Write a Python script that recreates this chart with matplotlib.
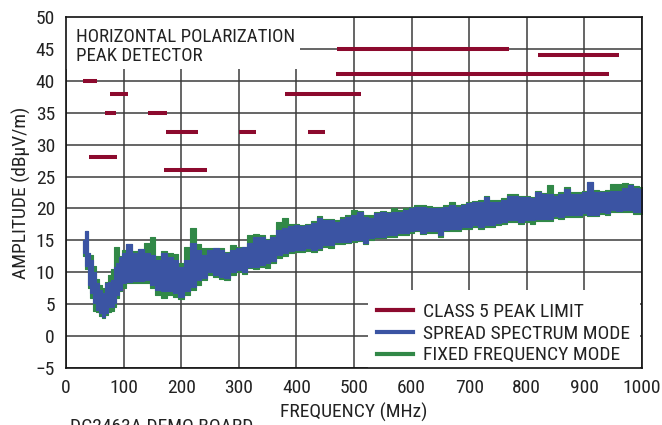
import matplotlib
matplotlib.use("Agg")
import matplotlib.pyplot as plt
from matplotlib.patches import Rectangle
from matplotlib.lines import Line2D

plt.rcParams['font.family'] = ['Roboto Condensed', 'Archivo Narrow', 'Liberation Sans Narrow', 'DejaVu Sans']

# ---- data ----
freq = [30, 35, 40, 45, 50, 55, 60, 65, 70, 75, 80, 85, 90, 95, 100,
        110, 120, 130, 140, 150, 160, 170, 180, 190, 200, 210, 220, 230, 240, 250,
        260, 270, 280, 290, 300, 310, 320, 330, 340, 350, 360, 370, 380, 390, 400,
        410, 420, 430, 440, 450, 460, 470, 480, 490, 500, 510, 520, 530, 540, 550,
        560, 570, 580, 590, 600, 610, 620, 630, 640, 650, 660, 670, 680, 690, 700,
        710, 720, 730, 740, 750, 760, 770, 780, 790, 800, 810, 820, 830, 840, 850,
        860, 870, 880, 890, 900, 910, 920, 930, 940, 950, 960, 970, 980, 990, 1000]

spread_hi = [15, 16.5, 13, 12, 10, 8.3, 7.2, 6.7, 8.3, 8.5, 8.8, 10.8, 11.4, 12.4, 13,
             14.4, 13, 13.6, 13, 12.7, 12, 13, 12.4, 12, 10.8, 12, 14.6, 13.5, 12.7, 13.5,
             13.8, 13.5, 13, 13.5, 13.8, 14, 14.6, 15.6, 15.6, 15, 15.6, 16.6, 16.9, 17.2, 17.4,
             17.2, 17.4, 17.7, 18.5, 18.2, 18.2, 17.9, 18.4, 18.7, 19, 19.5, 18.7, 18.5, 19.3, 19.5,
             19.3, 19.5, 19.5, 19.8, 20, 20.3, 20.3, 20, 20, 20, 20.3, 20.5, 20.3, 20.5, 20.8,
             21, 21, 21.8, 21, 21, 21.3, 22, 22, 21.8, 21.8, 21.6, 22.6, 22.2, 22.2, 22,
             22.3, 23.1, 22.3, 22.3, 22.6, 24.2, 22.6, 22.6, 22.6, 22.8, 22.8, 23.2, 23.6, 23.2, 23]
spread_lo = [13, 11, 8, 6.7, 5.2, 4.1, 3.6, 3, 3.6, 4.5, 4.5, 5.2, 6.4, 7.2, 8.3,
             8.5, 8.6, 8.6, 8.8, 8, 7.2, 7, 7, 6.7, 6.2, 7, 7.7, 8.8, 9.1, 10,
             9.6, 9.3, 9.1, 10, 10.3, 10, 10.9, 10.9, 11.2, 11.4, 11.7, 12.7, 13, 13.3, 13.5,
             13.5, 13.8, 13.5, 13.8, 14.3, 14.3, 14.8, 14.8, 14.8, 15.1, 15.1, 14.6, 15.4, 15.6, 15.6,
             15.9, 15.9, 16.2, 16.2, 16.4, 16.7, 16.2, 16.4, 16.4, 15.8, 16.6, 16.8, 16.8, 17.1, 17.1,
             17.4, 17.1, 17.4, 17.4, 17.7, 17.9, 18.2, 18.2, 17.9, 18.2, 18.2, 18.4, 18.4, 18.4, 18.8,
             18.6, 19, 19, 19, 19.3, 19, 19, 19.5, 19.3, 19.8, 19.6, 19.8, 19.8, 19.4, 19.5]
fixed_hi = [15, 16.5, 13, 12.7, 11, 9, 8, 7.5, 8.5, 9.5, 10.5, 14, 14, 12.5, 13.5,
            14.4, 13.3, 13.6, 14.6, 15.6, 12.5, 13.3, 13, 12.8, 11.5, 14, 17, 14.5, 13.8, 13.8,
            13.8, 13.8, 13.2, 14.3, 14, 14, 15.8, 16, 15.8, 15.2, 15.8, 17.9, 18.5, 17.5, 17.6,
            17.4, 17.6, 18, 18.8, 18.3, 18.4, 18.2, 18.6, 18.9, 19.8, 19.6, 18.9, 19, 19.5, 19.6,
            19.5, 20, 19.7, 20, 20.2, 20.5, 20.6, 20.4, 20.2, 20.3, 20.5, 21, 20.6, 20.7, 21,
            21.2, 21.3, 21.9, 21.4, 21.3, 21.6, 22.2, 22.3, 22, 22, 21.8, 22.8, 22.4, 23.7, 22.3,
            22.5, 23.3, 22.6, 22.5, 22.8, 24.2, 22.9, 22.8, 22.9, 23.8, 23.8, 24, 23.8, 23.5, 23.3]
fixed_lo = [12.5, 10.5, 7.5, 6, 4, 3.8, 3.2, 2.8, 3.3, 3.8, 4, 4.5, 6, 7, 7.5,
            8.3, 8.3, 8.3, 8.3, 7.5, 6.4, 6, 6.5, 6.2, 5.8, 6.5, 7.2, 8, 8.8, 9.6,
            9.3, 9, 8.8, 9.6, 10, 9.8, 10.6, 10.5, 10.8, 10.6, 11.4, 12.2, 12.6, 13, 13.2,
            13.2, 13.4, 13.2, 13.5, 14, 13.8, 14.4, 14.5, 14.6, 14.8, 14.9, 14.4, 15, 15.3, 15.4,
            15.6, 15.6, 15.9, 15.9, 16.1, 16.4, 16, 16.1, 16.1, 15.6, 16.4, 16.5, 16.5, 16.8, 16.8,
            17.1, 16.8, 17.1, 17.1, 17.4, 17.5, 17.8, 17.9, 17.6, 17.9, 17.6, 18.1, 18.1, 18.1, 18.5,
            18.3, 18.7, 18.7, 18.7, 19, 18.8, 18.8, 19.2, 19, 19.5, 19.4, 19.5, 19.5, 19.2, 19.2]

# Class 5 peak limit segments: (start MHz, end MHz, level dBuV/m)
limit_start = [30, 76, 68, 142, 174, 300, 420, 40, 170, 380, 470, 820, 468]
limit_end = [54, 108, 87, 175, 230, 330, 450, 88, 245, 512, 769, 960, 943]
limit_level = [40, 38, 35, 35, 32, 32, 32, 28, 26, 38, 45, 44, 41]

x_ticks = [0, 100, 200, 300, 400, 500, 600, 700, 800, 900, 1000]
y_ticks = [-5, 0, 5, 10, 15, 20, 25, 30, 35, 40, 45, 50]

series_labels = ['CLASS 5 PEAK LIMIT', 'SPREAD SPECTRUM MODE', 'FIXED FREQUENCY MODE']

RED = '#8c0a2e'
BLUE = '#3b54a3'
GREEN = '#318847'
TXT = '#222222'

fig = plt.figure(figsize=(6.62, 4.25), dpi=100)
ax = fig.add_axes([66 / 662, 1 - 368 / 425, 576 / 662, 351 / 425])

ax.fill_between(freq, fixed_lo, fixed_hi, step='mid', color=GREEN, lw=0.8, zorder=3)
ax.fill_between(freq, spread_lo, spread_hi, step='mid', color=BLUE, lw=0.8, zorder=4)
ax.hlines(limit_level, limit_start, limit_end, color=RED, lw=2.9, zorder=5)

ax.set_xlim(0, 1000)
ax.set_ylim(-5, 50)
ax.set_xticks(x_ticks)
ax.set_yticks(y_ticks)
ax.set_yticklabels([('\u2212' + str(-v)) if v < 0 else str(v) for v in y_ticks])
ax.grid(True, color='#3c3c3c', lw=1.1, zorder=1)
ax.set_axisbelow(True)
ax.tick_params(length=0, labelsize=14, pad=8, colors=TXT)
for s in ax.spines.values():
    s.set_color('#111111')
    s.set_linewidth(1.2)
    s.set_zorder(10)

ax.set_xlabel('FREQUENCY (MHz)', fontsize=14, color=TXT, labelpad=4)
ax.set_ylabel('AMPLITUDE (dB\u03bcV/m)', fontsize=14, color=TXT, labelpad=3)

# white boxes covering the grid
ax.add_patch(Rectangle((0, 0.852), 0.406, 0.148, transform=ax.transAxes,
                       facecolor='white', edgecolor='none', zorder=2))
ax.add_patch(Rectangle((0.524, 0.0), 0.472, 0.222, transform=ax.transAxes,
                       facecolor='white', edgecolor='none', zorder=2))

ax.text(0.017, 0.97, 'HORIZONTAL POLARIZATION\nPEAK DETECTOR', transform=ax.transAxes,
        ha='left', va='top', fontsize=13.6, color=TXT, linespacing=1.12, zorder=6)

handles = [Line2D([], [], color=RED, lw=3),
           Line2D([], [], color=BLUE, lw=3),
           Line2D([], [], color=GREEN, lw=3)]
leg = ax.legend(handles, series_labels,
                loc='lower left', bbox_to_anchor=(0.526, -0.012), frameon=False, fontsize=14,
                handlelength=1.85, handletextpad=0.55, labelspacing=0.2, borderaxespad=0.0)
for t in leg.get_texts():
    t.set_color(TXT)
leg.set_zorder(7)

fig.text(70 / 662, 1 - 418 / 425, 'DC2463A DEMO BOARD', ha='left', va='top',
         fontsize=14, color=TXT)

fig.savefig('out.png', dpi=100)
